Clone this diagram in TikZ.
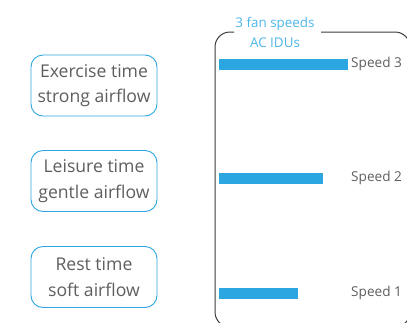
\documentclass[tikz,border=0pt]{standalone}
\usepackage{fontspec}
\setmainfont{Open Sans}
\definecolor{fanblue}{HTML}{2CA6E0}
\definecolor{titleblue}{HTML}{4DB6EA}
\definecolor{textgray}{HTML}{5E5E5E}
\definecolor{framegray}{HTML}{3C3C3C}
\tikzset{modebox/.style={draw=fanblue, rounded corners=12pt, line width=0.9pt,
                         minimum width=126pt, minimum height=61pt, align=center,
                         text=textgray, font=\fontsize{17.6}{25.5}\selectfont},
         speedbar/.style={fill=fanblue, draw=none},
         speedlabel/.style={anchor=west, text=textgray, inner sep=0pt,
                            font=\fontsize{13.6}{15}\selectfont}}

\begin{document}
\begin{tikzpicture}[x=1pt,y=-1pt]
\useasboundingbox (0,0) rectangle (407,322);
\clip (0,0) rectangle (407,322);
% activity boxes
\node[modebox] (exercise) at (94,85.5) {Exercise time\\strong airflow};
\node[modebox] (leisure) at (94,181) {Leisure time\\gentle airflow};
\node[modebox] (rest) at (94,277) {Rest time\\soft airflow};
% frame with title gap
\draw[framegray, line width=1pt, rounded corners=15pt]
  (321,32) -- (410,32) -- (410,327) -- (215,327) -- (215,32) -- (234,32);
\node[text=titleblue, align=center, font=\fontsize{13.4}{20}\selectfont] (title) at (275,32.5) {3 fan speeds\\AC IDUs};
% speed bars
\fill[speedbar] (219,59) rectangle (348,70);
\fill[speedbar] (219,173) rectangle (323,184);
\fill[speedbar] (219,288) rectangle (298,299);
\node[speedlabel] (speed3) at (351,64) {Speed 3};
\node[speedlabel] (speed2) at (351,178) {Speed 2};
\node[speedlabel] (speed1) at (351,293) {Speed 1};
\end{tikzpicture}
\end{document}
